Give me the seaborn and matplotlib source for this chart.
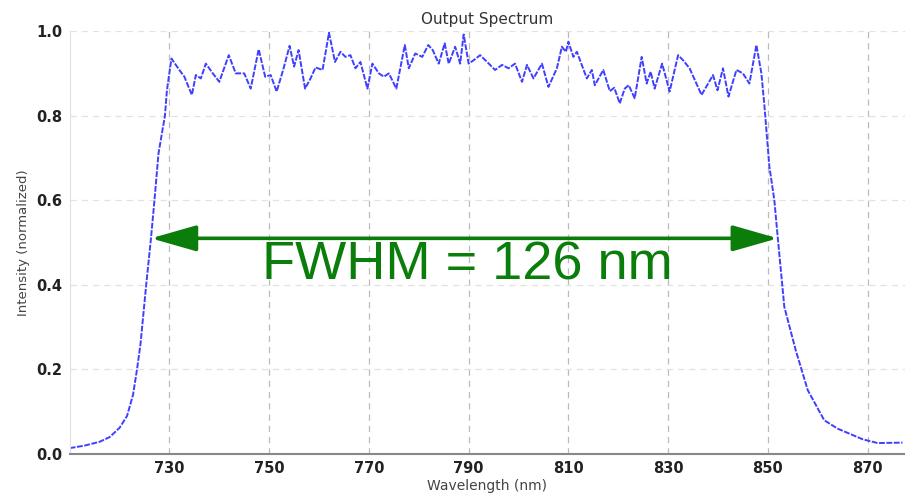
import numpy as np
import matplotlib
matplotlib.use("Agg")
import matplotlib.pyplot as plt
import seaborn as sns

# spectrum (wavelength in nm, normalized intensity)
wavelength = [710, 713, 716, 718, 720, 721.5, 722.7, 723.5, 724.2, 725.3, 726.3, 727, 727.8, 729.1, 729.5, 730.4,
              732, 733, 734.5, 735.3, 736.3, 737.3, 738.7, 740, 741.9, 743.3, 745, 746.3, 747.9, 749.2, 750.3,
              751.5, 752.8, 754.1, 755, 755.9, 757.2, 758.3, 759.3, 760.7, 762, 763.2, 764.3, 765.3, 766.3,
              767.3, 768.3, 769.7, 770.7, 772, 773, 774, 775.5, 777.2, 778, 779.3, 780.7, 781.9, 782.8, 784,
              785.2, 786, 787.3, 788.3, 789, 790, 791, 792.3, 793.7, 795.3, 796.7, 798, 799.3, 800.7, 801.7,
              803, 804.7, 806, 807.7, 808.7, 809.5, 810, 811, 811.7, 813.7, 814.7, 815.3, 817, 818.3, 819.2,
              820.3, 821.3, 822.1, 823.3, 824.7, 825.7, 826.5, 827.3, 828.8, 830.3, 832, 833, 834.3, 836.7,
              839, 839.9, 841, 842.1, 843.7, 845, 846.3, 847.7, 848.7, 849.3, 850.3, 851.3, 852, 853.3, 855.6,
              858, 861.3, 864, 866, 869, 872, 877]
intensity = [0.014, 0.02, 0.029, 0.04, 0.062, 0.09, 0.14, 0.2, 0.26, 0.395, 0.51, 0.6, 0.71, 0.80, 0.86, 0.935,
             0.908, 0.892, 0.849, 0.896, 0.888, 0.923, 0.90, 0.88, 0.943, 0.90, 0.90, 0.864, 0.957, 0.892, 0.896,
             0.857, 0.908, 0.965, 0.916, 0.955, 0.864, 0.888, 0.914, 0.908, 0.996, 0.927, 0.951, 0.939, 0.943,
             0.912, 0.927, 0.864, 0.923, 0.90, 0.892, 0.90, 0.864, 0.967, 0.912, 0.947, 0.939, 0.967, 0.955, 0.923,
             0.971, 0.923, 0.963, 0.923, 0.992, 0.923, 0.931, 0.943, 0.927, 0.908, 0.92, 0.912, 0.923, 0.88, 0.92,
             0.888, 0.923, 0.868, 0.912, 0.963, 0.951, 0.975, 0.939, 0.951, 0.888, 0.908, 0.872, 0.908, 0.858, 0.866,
             0.829, 0.864, 0.872, 0.841, 0.939, 0.876, 0.904, 0.864, 0.923, 0.857, 0.943, 0.931, 0.912, 0.849,
             0.896, 0.86, 0.912, 0.845, 0.908, 0.90, 0.876, 0.967, 0.90, 0.825, 0.68, 0.60, 0.51, 0.348, 0.245,
             0.151, 0.08, 0.06, 0.05, 0.035, 0.026, 0.027]

fwhm_left = 726.3
fwhm_right = 852.0
half_max = 0.51
fwhm_label = "FWHM = 126 nm"

xticks = [730, 750, 770, 790, 810, 830, 850, 870]
yticks = [0.0, 0.2, 0.4, 0.6, 0.8, 1.0]

sns.set_style("white")
plt.rcParams['font.family'] = ['DejaVu Sans']

fig = plt.figure(figsize=(9.05, 4.93), dpi=100)
ax = fig.add_axes([0.077, 0.079, 0.923, 0.858])

sns.lineplot(x=wavelength, y=intensity, ax=ax, color='#3f3fff', linewidth=1.4,
             linestyle=(0, (3, 0.8)), sort=False)

ax.set_xlim(710, 877.5)
ax.set_ylim(0, 1.0)
ax.set_xticks(xticks)
ax.set_yticks(yticks)
ax.set_xticklabels([str(t) for t in xticks], fontweight='bold', fontsize=10.5, color='#222222')
ax.set_yticklabels(["%.1f" % t for t in yticks], fontweight='bold', fontsize=10.5, color='#222222')
ax.tick_params(length=0, pad=5)

ax.xaxis.grid(True, linestyle=(0, (5, 4)), color='#bbbbbb', linewidth=0.9)
ax.yaxis.grid(True, linestyle=(0, (5, 4)), color='#e2e2e2', linewidth=0.9)
ax.set_axisbelow(True)

for side in ['top', 'right']:
    ax.spines[side].set_visible(False)
ax.spines['left'].set_color('#e0e0e0')
ax.spines['bottom'].set_color('#888888')
ax.spines['bottom'].set_linewidth(1.5)

ax.set_title("Output Spectrum", fontsize=11, color='#333333', pad=5)
ax.set_ylabel("Intensity (normalized)", fontsize=9.5, color='#444444', labelpad=5)
ax.set_xlabel("Wavelength (nm)", fontsize=10, color='#444444', labelpad=2)

ax.annotate("", xy=(fwhm_left, half_max), xytext=(fwhm_right, half_max),
            arrowprops=dict(arrowstyle='<|-|>,head_length=2.8,head_width=0.8',
                            color='#0a7d0a', linewidth=2.6, shrinkA=0, shrinkB=0))
ax.text((fwhm_left + fwhm_right) / 2 + 0.6, 0.445, fwhm_label, color='#0a7d0a',
        fontsize=39, ha='center', va='center', family=['Liberation Sans', 'DejaVu Sans'])

fig.savefig("out.png", dpi=100)
